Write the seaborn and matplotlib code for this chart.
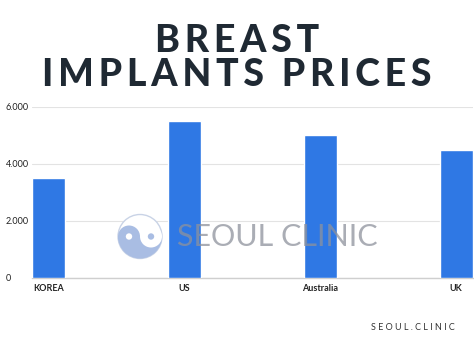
import matplotlib
matplotlib.use("Agg")
import matplotlib.pyplot as plt
import seaborn as sns
import pandas as pd
from matplotlib.patches import Circle, Wedge
from matplotlib.ticker import FuncFormatter

# Données
countries = ["KOREA", "US", "Australia", "UK"]
prices = [3500, 5500, 5000, 4500]
y_ticks = [0, 2000, 4000, 6000]

df = pd.DataFrame({"Country": countries, "Price": prices})

sns.set_style("white")
plt.rcParams['font.family'] = ['Lato', 'DejaVu Sans']

fig = plt.figure(figsize=(4.74, 3.55), dpi=100)
ax = fig.add_axes([0.0675, 0.217, 0.9305, 0.4816])

sns.barplot(x="Country", y="Price", data=df, color="#2f78e4", width=0.243,
            saturation=1, ax=ax, zorder=3)

ax.set_xlim(-0.122, 3.125)
ax.set_ylim(0, 6000)
ax.set_yticks(y_ticks)
ax.yaxis.set_major_formatter(FuncFormatter(lambda v, p: f"{int(v):,}".replace(",", ".")))
ax.grid(axis="y", color="#e3e3e3", linewidth=0.8, zorder=0)
ax.set_xlabel("")
ax.set_ylabel("")
for s in ["top", "right", "left"]:
    ax.spines[s].set_visible(False)
ax.spines["bottom"].set_color("#cfcfcf")
ax.spines["bottom"].set_linewidth(1.0)
ax.tick_params(axis="both", length=0, labelsize=6.5, colors="#222222")
ax.tick_params(axis="y", pad=19)
ax.tick_params(axis="x", pad=4)
for lbl in ax.get_xticklabels():
    lbl.set_fontweight("bold")
for lbl in ax.get_yticklabels():
    lbl.set_horizontalalignment("left")

# Titre (lettres espacées)
sp = "\u2009"
line1 = sp.join("BREAST")
line2 = sp.join("IMPLANTS") + "  " + sp.join("PRICES")
fig.text(0.5, 0.885, line1, ha="center", va="center", fontsize=27,
         fontweight="black", color="#1f2933")
fig.text(0.5, 0.788, line2, ha="center", va="center",
         fontsize=27, fontweight="black", color="#1f2933")

# Filigrane (yin-yang + texte)
cx, cy, r = 140, 355 - 236.5, 22
blue = "#a9bde3"
fig.patches.append(Circle((cx, cy), r, transform=None, facecolor="white",
                          edgecolor="#c9d3e6", linewidth=1, zorder=5))
fig.patches.append(Wedge((cx, cy), r, 180, 360, transform=None,
                         facecolor=blue, edgecolor="none", zorder=5))
fig.patches.append(Circle((cx - r / 2, cy), r / 2, transform=None,
                          facecolor=blue, edgecolor="none", zorder=5))
fig.patches.append(Circle((cx + r / 2, cy), r / 2, transform=None,
                          facecolor="white", edgecolor="none", zorder=5))
fig.patches.append(Circle((cx - r / 2, cy), 3.2, transform=None,
                          facecolor="white", edgecolor="none", zorder=6))
fig.patches.append(Circle((cx + r / 2, cy), 3.2, transform=None,
                          facecolor=blue, edgecolor="none", zorder=6))
fig.text(177 / 474, 1 - 237 / 355, "SEOUL CLINIC", ha="left", va="center",
         fontsize=22, color="#8e929c", alpha=0.75, zorder=7)

# Pied de page
fig.text(455 / 474, 1 - 328 / 355, "S E O U L . C L I N I C", ha="right", va="center",
         fontsize=6.5, color="#333333")

plt.savefig("out.png", dpi=100)
